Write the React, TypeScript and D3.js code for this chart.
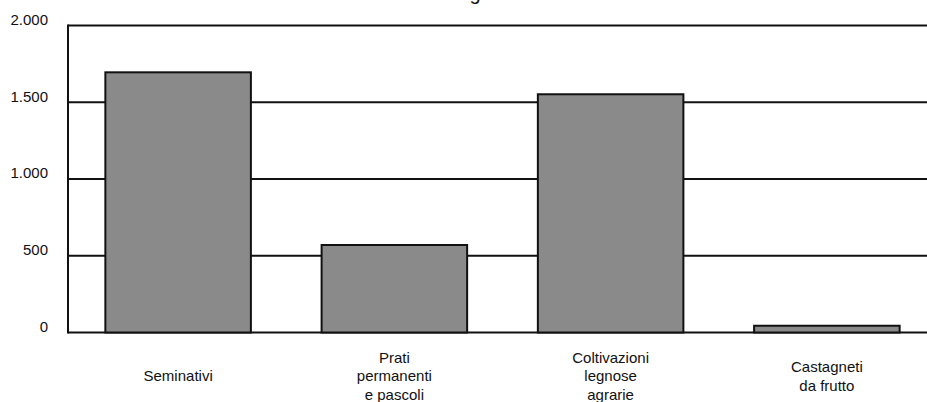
import React from "react";
import * as d3 from "d3";

const categories: string[][] = [
  ["Seminativi"],
  ["Prati", "permanenti", "e pascoli"],
  ["Coltivazioni", "legnose", "agrarie"],
  ["Castagneti", "da frutto"],
];
const values: number[] = [1695, 570, 1552, 44];
const yTicks: number[] = [0, 500, 1000, 1500, 2000];
const yTickLabels: string[] = ["0", "500", "1.000", "1.500", "2.000"];
const titleFragment = "g";

const W = 927;
const H = 402;
const M = { left: 68, top: 25.5, bottom: 332.5, right: 935 };

export default function App() {
  const keys = categories.map((c) => c.join(" "));
  const x = d3
    .scaleBand<string>()
    .domain(keys)
    .range([70, M.right])
    .paddingInner(0.327)
    .paddingOuter(0.1635);
  const y = d3.scaleLinear().domain([0, 2000]).range([M.bottom, M.top]);
  const font = "'Liberation Sans', Arial, sans-serif";
  const lineH = 18.6;
  const labelCenterY = 376;

  return (
    <svg
      width={W}
      height={H}
      style={{ position: "absolute", left: 0, top: 0, background: "#fff" }}
      fontFamily={font}
    >
      <text x={475} y={0} fontSize={20} textAnchor="middle" fill="#111">
        {titleFragment}
      </text>
      {/* gridlines */}
      {yTicks.map((t) => (
        <line
          key={"g" + t}
          x1={M.left}
          x2={W}
          y1={y(t)}
          y2={y(t)}
          stroke="#111"
          strokeWidth={2}
        />
      ))}
      <line x1={M.left} x2={M.left} y1={M.top - 1} y2={M.bottom + 1} stroke="#111" strokeWidth={2} />
      {/* bars */}
      {keys.map((k, i) => (
        <rect
          key={k}
          x={x(k)!}
          y={y(values[i])}
          width={x.bandwidth()}
          height={y(0) - y(values[i])}
          fill="#8a8a8a"
          stroke="#111"
          strokeWidth={2}
        />
      ))}
      {/* y tick labels */}
      {yTicks.map((t, i) => (
        <text
          key={"l" + t}
          x={48}
          y={y(t) - 6}
          dy="0.35em"
          fontSize={15}
          textAnchor="end"
          fill="#111"
        >
          {yTickLabels[i]}
        </text>
      ))}
      {/* x labels */}
      {categories.map((lines, i) => {
        const cx = x(keys[i])! + x.bandwidth() / 2;
        const startY = labelCenterY - ((lines.length - 1) * lineH) / 2;
        return (
          <text key={"x" + i} fontSize={15} textAnchor="middle" fill="#111">
            {lines.map((ln, j) => (
              <tspan key={j} x={cx} y={startY + j * lineH} dy="0.35em">
                {ln}
              </tspan>
            ))}
          </text>
        );
      })}
    </svg>
  );
}
